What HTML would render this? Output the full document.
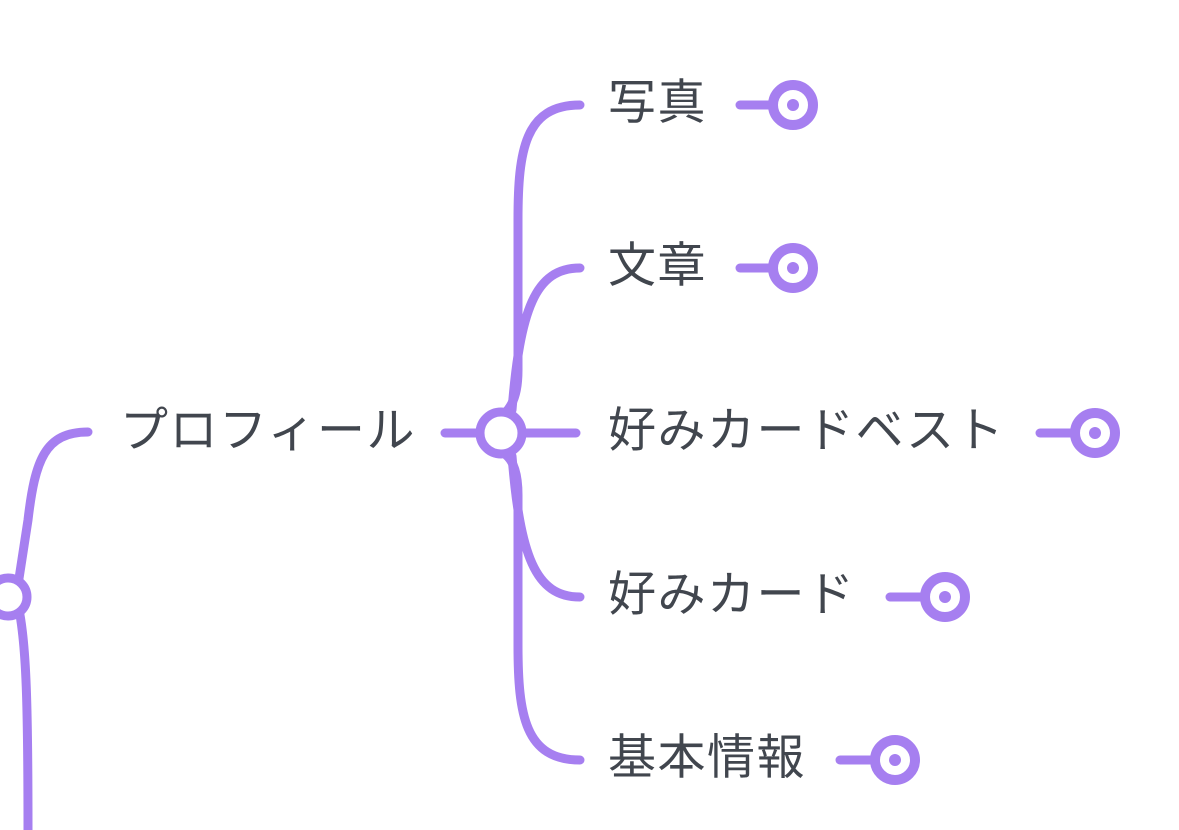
<!DOCTYPE html>
<html><head><meta charset="utf-8"><style>
html,body{margin:0;padding:0;background:#fff;width:1179px;height:830px;overflow:hidden}
text{font-family:"Liberation Sans","Noto Sans CJK JP",sans-serif;font-size:48px;letter-spacing:1.5px;fill:#41464e;dominant-baseline:central}
</style></head><body>
<svg width="1179" height="830" viewBox="0 0 1179 830" xmlns="http://www.w3.org/2000/svg">
<g fill="none" stroke="#a67ff0" stroke-width="9" stroke-linecap="round">
<path d="M88,432 C45,432 35,460 28,520 L18,585"/>
<path d="M20,615 C26,650 28,700 28,830"/>
<path d="M445,433 L478,433"/>
<path d="M524,433 L576,433"/>
<path d="M580,105 C525,105 518,150 518,220 L518,370 C518,395 512,405 506,412"/>
<path d="M580,268 C535,268 520,310 512,410"/>
<path d="M580,597 C535,597 520,555 512,456"/>
<path d="M580,760 C525,760 518,715 518,645 L518,495 C518,470 512,460 506,455"/>
<circle cx="501" cy="433" r="21" fill="#fff"/>
<circle cx="8" cy="597" r="19" fill="#fff"/>
<path d="M740,105 L770,105"/><circle cx="793" cy="105" r="20" fill="#fff" stroke-width="10"/>
<path d="M740,268 L770,268"/><circle cx="793" cy="268" r="20" fill="#fff" stroke-width="10"/>
<path d="M1040,433 L1072,433"/><circle cx="1095" cy="433" r="20" fill="#fff" stroke-width="10"/>
<path d="M890,597 L922,597"/><circle cx="945" cy="597" r="20" fill="#fff" stroke-width="10"/>
<path d="M840,760 L872,760"/><circle cx="895" cy="760" r="20" fill="#fff" stroke-width="10"/>
</g>
<g fill="#a67ff0">
<circle cx="793" cy="105" r="6"/><circle cx="793" cy="268" r="6"/><circle cx="1095" cy="433" r="6"/><circle cx="945" cy="597" r="6"/><circle cx="895" cy="760" r="6"/>
</g>
<text x="120" y="431">プロフィール</text>
<text x="608" y="103">写真</text>
<text x="608" y="266">文章</text>
<text x="608" y="431">好みカードベスト</text>
<text x="608" y="595">好みカード</text>
<text x="608" y="758">基本情報</text>
</svg>
</body></html>
